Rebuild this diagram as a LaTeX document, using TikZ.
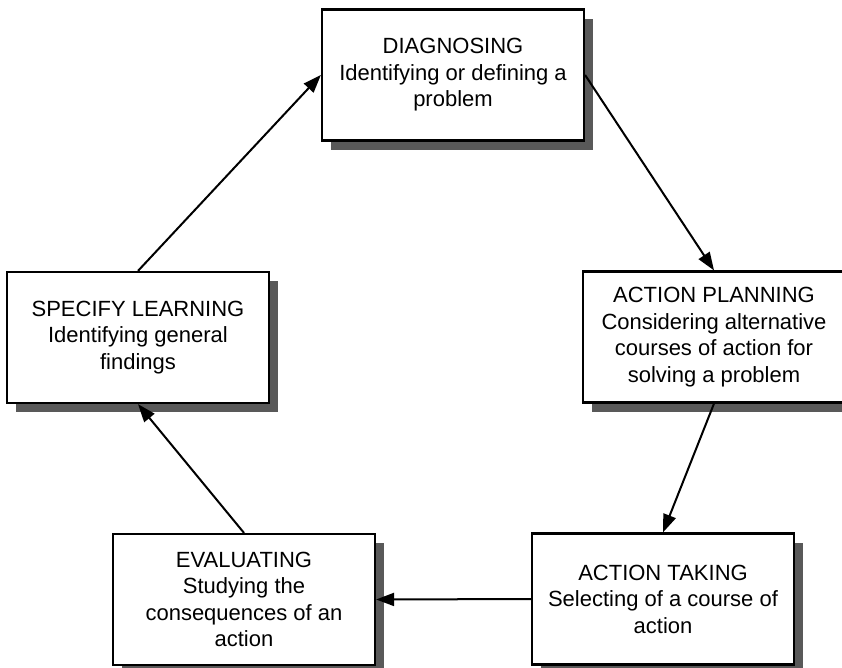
\documentclass[tikz,border=0pt]{standalone}
\usepackage{fontspec}
\setmainfont{Liberation Sans}
\usepackage{tikz}
\usetikzlibrary{shadows}
\usetikzlibrary{arrows.meta}

\begin{document}
\begin{tikzpicture}[x=1pt, y=-1pt]
        \tikzstyle{every node}=[font=\fontsize{22}{26.5}\selectfont]
        \tikzstyle{stage}=[draw, line width=2.2pt, fill=white, align=center,
          minimum width=262pt, minimum height=131pt,
          drop shadow={shadow xshift=9pt, shadow yshift=-9pt, fill=black!65, opacity=1}]
        \tikzstyle{flow}=[line width=2pt, -{Triangle[length=18pt, width=13pt]}]
        \useasboundingbox (0,0) rectangle (842,667);
        \node [stage] (diag) at (453, 75) {DIAGNOSING\\Identifying or defining a\\problem};
        \node [stage] (plan) at (714, 337) {ACTION PLANNING\\Considering alternative\\courses of action for\\solving a problem};
        \node [stage] (take) at (663, 599) {ACTION TAKING\\Selecting of a course of\\action};
        \node [stage] (eval) at (244, 599.5) {EVALUATING\\Studying the\\consequences of an\\action};
        \node [stage] (learn) at (138, 337.5) {SPECIFY LEARNING\\Identifying general\\findings};
        \draw [flow] (diag.east) -- (plan.north);
        \draw [flow] (plan.south) -- (take.north);
        \draw [flow] (take.west) -- (eval.east);
        \draw [flow] (eval.north) -- (learn.south);
        \draw [flow] (learn.north) -- (diag.west);
      \end{tikzpicture}
\end{document}
